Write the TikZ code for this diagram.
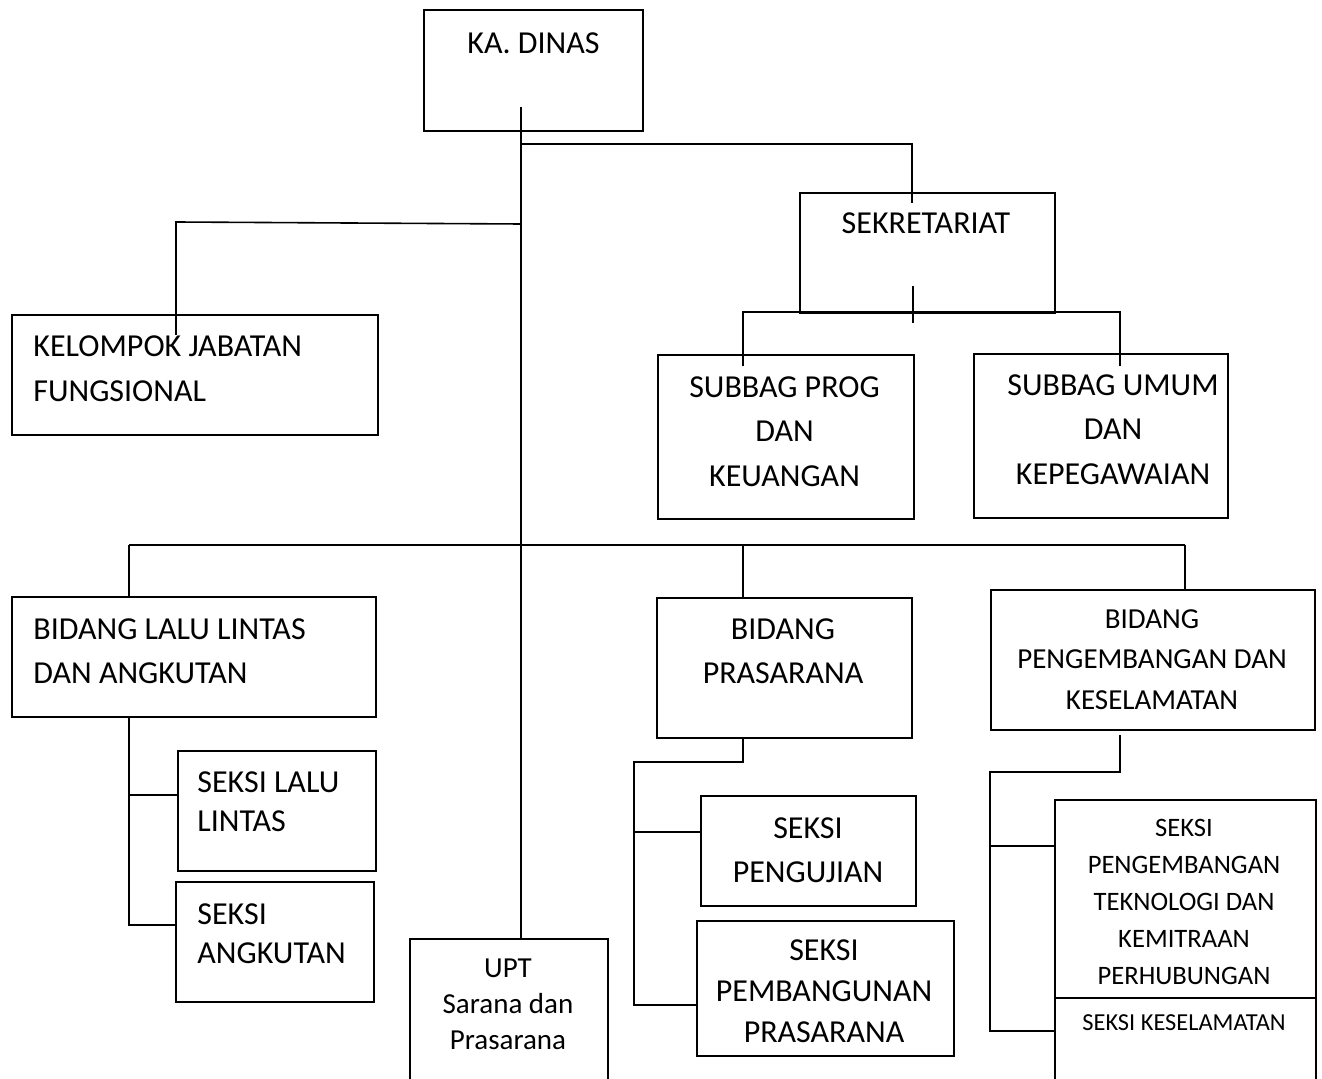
\documentclass[tikz,border=0pt]{standalone}
\usepackage{fontspec}
\setmainfont{Carlito}
\tikzset{
    unit/.style = {draw, rectangle, anchor=north west, inner sep=0pt, line width=0.8pt},
    caption/.style = {inner sep=0pt, anchor=north, align=center, font=\fontsize{16}{22.25}\selectfont},
    caption-left/.style = {caption, anchor=north west, align=left},
    link/.style = {line width=0.8pt},
}

\begin{document}
\begin{tikzpicture}[x=0.5pt, y=-0.5pt]
\useasboundingbox (0,0) rectangle (1322,1079);

% boxes
\node[unit, minimum width=109.5pt, minimum height=60.5pt] (kadinas) at (423,9) {};
\node[unit, minimum width=127.5pt, minimum height=60pt] (sekretariat) at (799,192) {};
\node[unit, minimum width=183pt, minimum height=60pt] (kelompok) at (11,314) {};
\node[unit, minimum width=128pt, minimum height=82pt] (subbagprog) at (657,354) {};
\node[unit, minimum width=127pt, minimum height=82pt] (subbagumum) at (973,353) {};
\node[unit, minimum width=182pt, minimum height=60pt] (bidangll) at (11,596) {};
\node[unit, minimum width=99pt, minimum height=60pt] (seksill) at (177,750) {};
\node[unit, minimum width=99pt, minimum height=60pt] (seksiangkutan) at (175,881) {};
\node[unit, minimum width=99pt, minimum height=81pt] (upt) at (409,938) {};
\node[unit, minimum width=127.5pt, minimum height=70pt] (bidangpras) at (656,597) {};
\node[unit, minimum width=107.5pt, minimum height=55pt] (seksiuji) at (700,795) {};
\node[unit, minimum width=128.5pt, minimum height=67.5pt] (seksibangun) at (696,920) {};
\node[unit, minimum width=162pt, minimum height=70pt] (bidangpeng) at (990,589) {};
\node[unit, minimum width=130.5pt, minimum height=99pt] (seksitek) at (1054,799) {};
\node[unit, minimum width=130.5pt, minimum height=51.5pt] (seksiselamat) at (1054,997) {};

% captions
\node[caption] (kadinas-t) at (533.5,32) {KA. DINAS};
\node[caption] (sekretariat-t) at (926,212) {SEKRETARIAT};
\node[caption-left, font=\fontsize{16}{22.5}\selectfont] (kelompok-t) at (33,335) {KELOMPOK JABATAN\\FUNGSIONAL};
\node[caption] (subbagprog-t) at (784.5,376) {SUBBAG PROG\\DAN\\KEUANGAN};
\node[caption] (subbagumum-t) at (1113,374) {SUBBAG UMUM\\DAN\\KEPEGAWAIAN};
\node[caption-left, font=\fontsize{16}{22}\selectfont] (bidangll-t) at (33,618) {BIDANG LALU LINTAS\\DAN ANGKUTAN};
\node[caption-left, font=\fontsize{16}{19.5}\selectfont] (seksill-t) at (197,771) {SEKSI LALU\\LINTAS};
\node[caption-left, font=\fontsize{16}{19.5}\selectfont] (seksiangkutan-t) at (197,903) {SEKSI\\ANGKUTAN};
\node[caption, font=\fontsize{14.5}{18}\selectfont] (upt-t) at (508,958.5) {UPT\\Sarana dan\\Prasarana};
\node[caption] (bidangpras-t) at (783,618) {BIDANG\\PRASARANA};
\node[caption, font=\fontsize{16}{22}\selectfont] (seksiuji-t) at (808,817) {SEKSI\\PENGUJIAN};
\node[caption, font=\fontsize{16}{20.5}\selectfont] (seksibangun-t) at (824,939) {SEKSI\\PEMBANGUNAN\\PRASARANA};
\node[caption, font=\fontsize{14.5}{20.25}\selectfont] (bidangpeng-t) at (1152,609) {BIDANG\\PENGEMBANGAN DAN\\KESELAMATAN};
\node[caption, font=\fontsize{13.3}{18.6}\selectfont] (seksitek-t) at (1184,818.5) {SEKSI\\PENGEMBANGAN\\TEKNOLOGI DAN\\KEMITRAAN\\PERHUBUNGAN};
\node[caption, font=\fontsize{12.2}{14}\selectfont] (seksiselamat-t) at (1184,1014.5) {SEKSI KESELAMATAN};

% connectors
\coordinate (trunk) at (521,107);
\coordinate (bus-sek) at (521,144);
\coordinate (sek-in) at (912,203);
\coordinate (bus-kjf) at (521,224);
\coordinate (kjf-in) at (176,335);
\draw[link] (trunk) -- (trunk |- upt.north);
\draw[link] (bus-sek) -| (sek-in);
\draw[link] (bus-kjf) -- (176,222) -- (kjf-in);

\coordinate (sek-out) at (913,286);
\coordinate (bus-sub) at (743,312);
\coordinate (prog-in) at (743,366);
\coordinate (umum-in) at (1120,366);
\draw[link] (sek-out) -- (913,323);
\draw[link] (prog-in) -- (bus-sub) -- (1120,312) -- (umum-in);

\coordinate (bus-ll) at (129,545);
\coordinate (bus-pras) at (743,545);
\coordinate (bus-peng) at (1185,545);
\draw[link] (bus-ll) -- (bus-peng);
\draw[link] (bus-ll) -- (bus-ll |- bidangll.north);
\draw[link] (bus-pras) -- (bus-pras |- bidangpras.north);
\draw[link] (bus-peng) -- (bus-peng |- bidangpeng.north);

% bidang lalu lintas
\draw[link] (bus-ll |- bidangll.south) -- (129,925) -- (129,925 -| seksiangkutan.west);
\draw[link] (129,795) -- (129,795 -| seksill.west);

% bidang prasarana
\draw[link] (bus-pras |- bidangpras.south) -- (743,762) -- (634,762) -- (634,1005) -- (634,1005 -| seksibangun.west);
\draw[link] (634,832) -- (634,832 -| seksiuji.west);

% bidang pengembangan
\coordinate (peng-out) at (1120,735);
\draw[link] (peng-out) -- (1120,772) -- (990,772) -- (990,1031) -- (990,1031 -| seksiselamat.west);
\draw[link] (990,846) -- (990,846 -| seksitek.west);
\end{tikzpicture}
\end{document}
